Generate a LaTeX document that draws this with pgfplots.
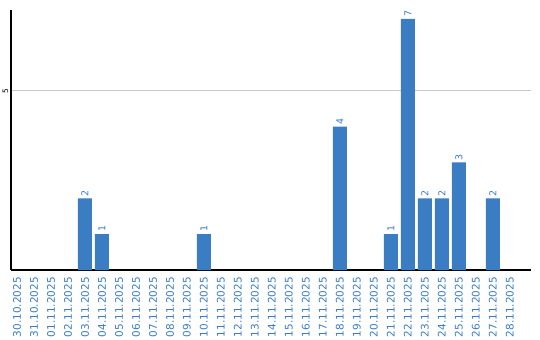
\documentclass[border=0pt]{standalone}
\usepackage{pgfplots}
\pgfplotsset{compat=1.18}
\usepackage{fontspec}
\setmainfont{DejaVu Sans}
\definecolor{barblue}{RGB}{58,125,194}
\definecolor{gridgray}{RGB}{200,200,200}
\begin{document}
\begin{tikzpicture}
\begin{axis}[
  scale only axis, width=520bp, height=260bp,
  xmin=-0.35, xmax=30.24, ymin=0, ymax=7.25,
  axis x line=bottom, axis y line=left,
  axis line style={-, black, line width=1.1pt},
  xtick={0,...,29},
  xticklabels={30.10.2025,31.10.2025,01.11.2025,02.11.2025,03.11.2025,04.11.2025,05.11.2025,06.11.2025,07.11.2025,08.11.2025,09.11.2025,10.11.2025,11.11.2025,12.11.2025,13.11.2025,14.11.2025,15.11.2025,16.11.2025,17.11.2025,18.11.2025,19.11.2025,20.11.2025,21.11.2025,22.11.2025,23.11.2025,24.11.2025,25.11.2025,26.11.2025,27.11.2025,28.11.2025},
  xticklabel style={rotate=90, anchor=east, font=\fontsize{10.5}{10}\selectfont, text=barblue, inner sep=0pt, xshift=-7bp},
  ytick={5},
  yticklabel style={rotate=90, anchor=south, font=\fontsize{7.5}{8}\selectfont, inner sep=1pt, yshift=1.5bp},
  /pgf/number format/assume math mode=true,
  major tick length=0pt,
  ymajorgrids, grid style={gridgray, line width=0.8pt},
]
\addplot[ybar, bar width=14bp, fill=barblue, draw=none,
  nodes near coords, every node near coord/.append style={rotate=90, anchor=west, font=\fontsize{9.5}{10}\selectfont, text=barblue, inner sep=2pt}]
  coordinates {(4,2) (5,1) (11,1) (19,4) (22,1) (23,7) (24,2) (25,2) (26,3) (28,2)};
\end{axis}
\path (-11bp,-70bp) rectangle (529bp,270bp);
\end{tikzpicture}
\end{document}
